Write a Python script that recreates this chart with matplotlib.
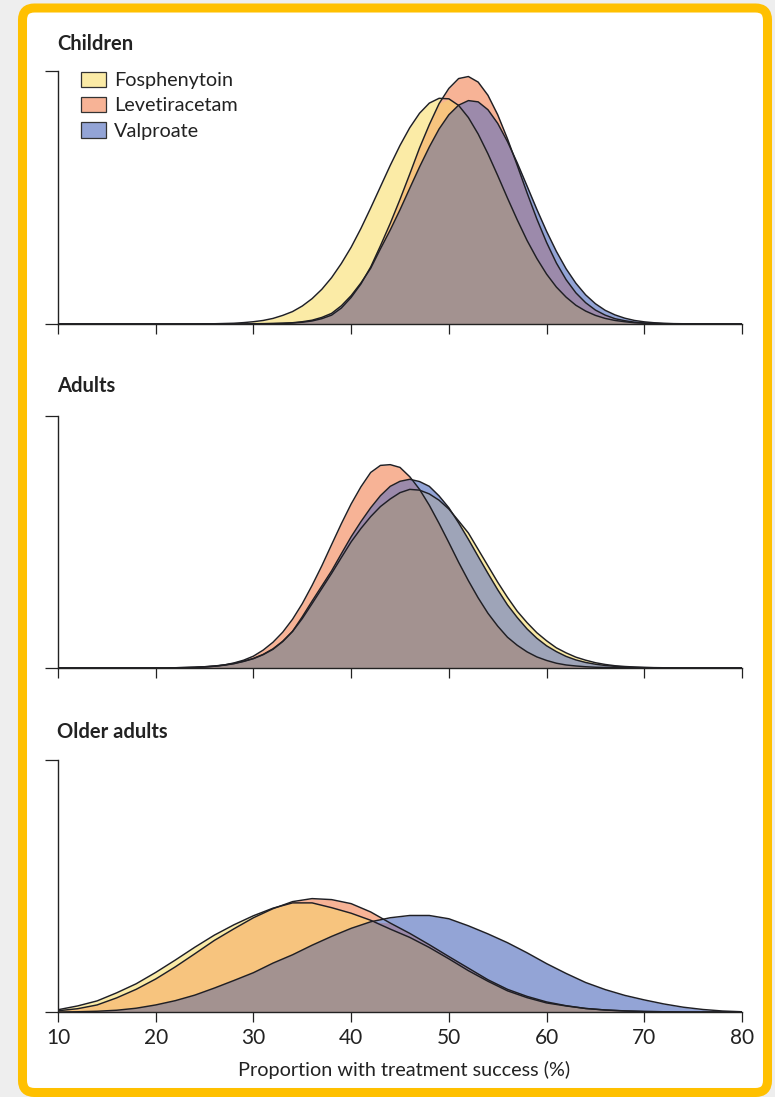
import numpy as np
import matplotlib
matplotlib.use("Agg")
import matplotlib.pyplot as plt
from matplotlib.patches import FancyBboxPatch, Patch
from matplotlib.transforms import IdentityTransform

plt.rcParams['font.family'] = ['Lato', 'DejaVu Sans']

# proportion with treatment success (%) where each panel was sampled
children_x = [10] + list(range(24, 75)) + [80]
adults_x = [10] + list(range(18, 75)) + [80]
older_x = list(range(10, 82, 2))

# relative density (100 = top tick of each panel)
children_fos = [0,
                0, 0.1, 0.1, 0.2, 0.3, 0.55, 0.9, 1.4, 2.2, 3.4, 4.9, 7.1, 10.0, 13.7, 18.3, 23.9, 30.3,
                37.7, 45.8, 54.2, 62.6, 70.5, 77.5, 83.2, 87.2, 89.1, 88.9, 86.3, 81.5, 75.0, 67.2, 58.6,
                49.7, 41.1, 33.0, 25.9, 19.7, 14.6, 10.6, 7.4, 5.1, 3.4, 2.2, 1.4, 0.9, 0.5, 0.3, 0.2, 0.1,
                0, 0,
                0]
children_lev = [0,
                0, 0, 0, 0, 0, 0, 0, 0.1, 0.1, 0.2, 0.4, 0.7, 1.2, 2.1, 3.5, 6.3, 10.5,
                15.8, 22.5, 30.9, 39.7, 49.2, 59.2, 69.5, 78.7, 87.0, 93.0, 96.9, 97.7, 95.5, 90.3, 82.6,
                73.1, 62.6, 51.8, 41.5, 32.2, 24.1, 17.5, 12.3, 8.4, 5.5, 3.5, 2.1, 1.3, 0.7, 0.4, 0.2, 0.1,
                0, 0,
                0]
children_val = [0,
                0, 0, 0, 0, 0, 0, 0.1, 0.15, 0.25, 0.35, 0.5, 0.9, 1.5, 2.6, 4.2, 7.2, 11.2,
                16.2, 22.0, 29.7, 37.1, 45.1, 53.6, 62.0, 69.9, 77.0, 82.6, 86.4, 88.2, 87.7, 84.6, 79.2,
                72.0, 63.6, 54.5, 45.3, 36.6, 28.7, 21.8, 16.1, 11.5, 8.0, 5.4, 3.6, 2.3, 1.4, 0.85, 0.5, 0.3,
                0.15, 0.1,
                0]

adults_fos = [0,
              0, 0, 0, 0, 0.1, 0.2, 0.3, 0.5, 0.8, 1.2, 1.8, 2.7, 3.8, 5.4, 7.6, 10.6, 14.5, 19.6,
              25.5, 31.5, 37.5, 43.8, 50.0, 55.3, 60.0, 64.0, 67.0, 69.5, 70.8, 70.5, 69.0, 66.5, 63.0,
              58.3, 53.5, 47.0, 40.5, 34.0, 28.0, 22.5, 18.0, 14.0, 10.8, 8.0, 6.0, 4.3, 3.1, 2.1, 1.4,
              0.9, 0.6, 0.4, 0.25, 0.15, 0.1, 0.05, 0,
              0]
adults_lev = [0,
              0, 0, 0, 0, 0.1, 0.1, 0.2, 0.4, 0.7, 1.2, 2.0, 3.1, 4.7, 7.1, 10.2, 14.2, 19.3, 25.5,
              32.7, 40.5, 48.9, 57.2, 65.0, 71.8, 77.5, 80.3, 80.6, 79.5, 75.8, 70.8, 64.5, 57.3, 49.7,
              41.9, 34.6, 27.8, 21.7, 16.6, 12.2, 9.0, 6.4, 4.4, 3.0, 1.9, 1.2, 0.8, 0.5, 0.3, 0.2,
              0.1, 0.1, 0, 0, 0, 0, 0, 0,
              0]
adults_val = [0,
              0, 0, 0, 0, 0.1, 0.2, 0.3, 0.5, 0.7, 1.1, 1.7, 2.6, 3.7, 5.3, 7.4, 10.5, 14.5, 20.3,
              26.5, 32.5, 38.5, 45.3, 52.0, 58.0, 63.5, 68.3, 72.0, 74.0, 74.8, 73.9, 72.0, 68.2, 63.5,
              57.5, 51.0, 44.2, 37.5, 31.0, 25.0, 20.0, 15.5, 11.8, 8.8, 6.5, 4.6, 3.2, 2.2, 1.5, 1.0,
              0.65, 0.4, 0.25, 0.15, 0.1, 0.05, 0, 0,
              0]

older_fos = [0.9, 2.4, 4.4, 7.6, 11.2, 15.7, 20.6, 25.7, 30.5, 34.6, 38.2, 41.2, 43.3, 43.3, 41.4, 39.2,
             36.4, 32.9, 29.6, 25.6, 21.1, 16.4, 12.2, 8.4, 5.7, 3.6, 2.4, 1.4, 0.8, 0.45, 0.2, 0.1, 0, 0, 0, 0]
older_lev = [0.5, 1.3, 2.8, 5.6, 9.0, 13.1, 17.9, 23.1, 28.4, 33.0, 37.4, 41.0, 43.8, 45.0, 44.6, 43.0,
             39.7, 35.3, 31.2, 26.7, 22.0, 17.4, 12.8, 9.0, 6.2, 4.0, 2.5, 1.4, 0.8, 0.4, 0.2, 0.1, 0, 0, 0, 0]
older_val = [0, 0.1, 0.3, 0.7, 1.5, 2.8, 4.5, 6.7, 9.5, 12.5, 15.6, 19.4, 22.7, 26.5, 30.0, 33.2,
             35.8, 37.4, 38.3, 38.3, 37.0, 34.2, 31.0, 27.5, 23.5, 19.2, 15.3, 11.7, 8.9, 6.6, 4.8, 3.2, 1.9, 1.0, 0.4, 0.1]

panel_titles = ["Children", "Adults", "Older adults"]
drug_names = ["Fosphenytoin", "Levetiracetam", "Valproate"]
x_ticks = [10, 20, 30, 40, 50, 60, 70, 80]

# colours of each overlap region
C_F, C_L, C_V = '#fbeba6', '#f7b396', '#93a4d6'
C_FL, C_FV, C_LV = '#f7c47e', '#9ea4b8', '#9c8aab'
C_FLV = '#a39290'
EDGE = '#1f1f24'
INK = '#222222'

W, H = 775, 1097
fig = plt.figure(figsize=(W / 100, H / 100), dpi=100, facecolor='#eeeeee')

# yellow rounded frame
frame = FancyBboxPatch((22.5, 4.5), 745, 1084.5, boxstyle="round,pad=0,rounding_size=12",
                       transform=IdentityTransform(), fc='white', ec='#ffc000', lw=6.5, zorder=0)
fig.add_artist(frame)


def draw_panel(ax, x, f, l, v):
    x = np.array(x, dtype=float)
    f, l, v = np.array(f), np.array(l), np.array(v)
    # paint each overlap region with its own colour
    ax.fill_between(x, f, color=C_F, lw=0, zorder=1)
    ax.fill_between(x, l, color=C_L, lw=0, zorder=1)
    ax.fill_between(x, v, color=C_V, lw=0, zorder=1)
    ax.fill_between(x, np.minimum(f, l), color=C_FL, lw=0, zorder=1)
    ax.fill_between(x, np.minimum(f, v), color=C_FV, lw=0, zorder=1)
    ax.fill_between(x, np.minimum(l, v), color=C_LV, lw=0, zorder=1)
    ax.fill_between(x, np.minimum(np.minimum(f, l), v), color=C_FLV, lw=0, zorder=1)
    for y in (f, l, v):
        ax.plot(x, y, color=EDGE, lw=1.05, zorder=2, solid_joinstyle='round')

    ax.set_xlim(10, 80)
    ax.set_ylim(0, 100)
    ax.set_facecolor('none')
    for s in ('top', 'right'):
        ax.spines[s].set_visible(False)
    for s in ('left', 'bottom'):
        ax.spines[s].set_linewidth(1.0)
        ax.spines[s].set_color(INK)
    ax.set_xticks(x_ticks)
    ax.set_yticks([0, 100])
    ax.set_yticklabels([])
    ax.tick_params(axis='x', direction='out', length=7.5, width=0.9, color=INK,
                   labelsize=15, labelcolor=INK, pad=4)
    ax.tick_params(axis='y', direction='out', length=9.5, width=0.9, color=INK)


# (top tick px, baseline px, title baseline px)
layout = [(70.7, 324, 50), (415.7, 668, 392), (760, 1012, 738)]
series = [(children_x, children_fos, children_lev, children_val),
          (adults_x, adults_fos, adults_lev, adults_val),
          (older_x, older_fos, older_lev, older_val)]

axes = []
for (top, base, tb), data, title in zip(layout, series, panel_titles):
    ax = fig.add_axes([58 / W, 1 - base / H, 684 / W, (base - top) / H])
    draw_panel(ax, *data)
    fig.text(57 / W, 1 - tb / H, title, fontsize=14.5, fontweight='bold', color=INK, va='baseline')
    axes.append(ax)

for ax in axes[:2]:
    ax.set_xticklabels([])

handles = [Patch(facecolor=c, edgecolor='#333333', lw=0.9, label=n)
           for c, n in zip([C_F, C_L, C_V], drug_names)]
axes[0].legend(handles=handles, loc='upper left', bbox_to_anchor=(81 / W, 1 - 71.5 / H),
               bbox_transform=fig.transFigure, frameon=False, fontsize=14.3,
               handlelength=1.26, handleheight=0.8, handletextpad=0.4,
               labelspacing=0.4, borderpad=0, borderaxespad=0, labelcolor=INK)

fig.text(404 / W, 1 - 1076 / H, "Proportion with treatment success (%)",
         fontsize=14.3, color=INK, ha='center', va='baseline')

fig.savefig("out.png", dpi=100, facecolor=fig.get_facecolor())
